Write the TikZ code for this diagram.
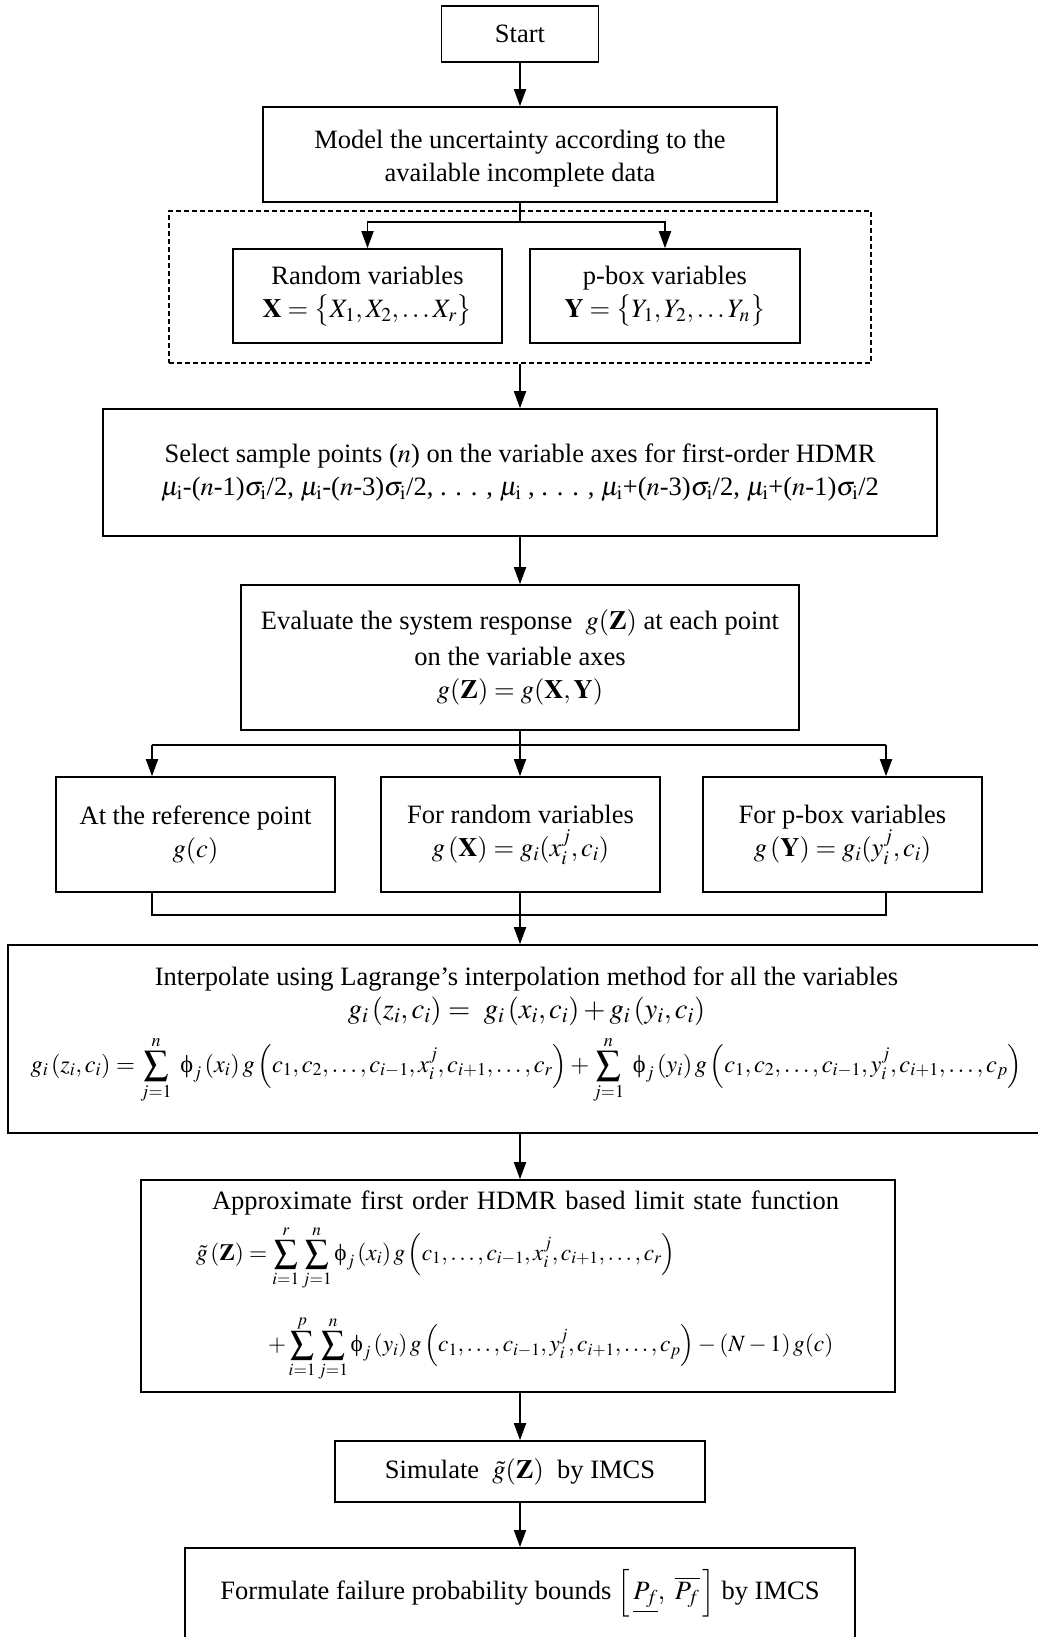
\documentclass[tikz,border=0pt]{standalone}
\usepackage{amsmath}
\usepackage{graphicx}
\usepackage{mathptmx}
\usepackage[no-math]{fontspec}
\setmainfont{Liberation Serif}
\usetikzlibrary{arrows.meta}
\newcommand{\uphi}{\text{ϕ}}
\begin{document}
\begin{tikzpicture}[x=1pt,y=-1pt,
  every node/.style={font=\fontsize{26.5}{33}\selectfont},
  box/.style={draw, line width=1.6pt, align=center, inner sep=0pt},
  grpbox/.style={draw, line width=1.1pt, dash pattern=on 5pt off 3pt},
  flow/.style={line width=1.8pt, -{Triangle[width=12pt,length=17pt]}},
  link/.style={line width=1.8pt}]
\useasboundingbox (0,0) rectangle (1037,1637);

% process boxes
\node[box, minimum width=157, minimum height=56] (start) at (520,34) {Start};
\node[box, minimum width=514, minimum height=95] (model) at (520,154.5)
  {\rule{0pt}{27pt}Model the uncertainty according to the\\available incomplete data};
\node[grpbox, minimum width=702, minimum height=152] (grp) at (520,287) {};
\node[box, minimum width=269, minimum height=94] (rand) at (367.5,296)
  {Random variables\\ $\mathbf{X}=\bigl\{X_1,X_2,\ldots X_r\bigr\}$};
\node[box, minimum width=270, minimum height=94] (pbox) at (665,296)
  {p-box variables\\ $\mathbf{Y}=\bigl\{Y_1,Y_2,\ldots Y_n\bigr\}$};
\node[box, minimum width=834, minimum height=127] (sel) at (520,472.5)
  {Select sample points ($n$) on the variable axes for first-order HDMR\\
   $\mu_{\mathrm{i}}$-($n$-1)$\sigma_{\mathrm{i}}$/2, $\mu_{\mathrm{i}}$-($n$-3)$\sigma_{\mathrm{i}}$/2, . . . , $\mu_{\mathrm{i}}$ , . . . , $\mu_{\mathrm{i}}$+($n$-3)$\sigma_{\mathrm{i}}$/2, $\mu_{\mathrm{i}}$+($n$-1)$\sigma_{\mathrm{i}}$/2};
\node[box, minimum width=558, minimum height=145] (eval) at (520,657.5)
  {Evaluate the system response \ $g(\mathbf{Z})$ at each point\\[3pt]
   on the variable axes\\ $g(\mathbf{Z})=g(\mathbf{X},\mathbf{Y})$};
\node[box, minimum width=279, minimum height=115] (ref) at (195.5,834.5)
  {At the reference point\\ $g(c)$};
\node[box, minimum width=279, minimum height=115] (rv) at (520.5,834.5)
  {For random variables\\ $g\left(\mathbf{X}\right)=g_i(x_i^j,c_i)$};
\node[box, minimum width=279, minimum height=115] (pv) at (842.5,834.5)
  {For p-box variables\\ $g\left(\mathbf{Y}\right)=g_i(y_i^j,c_i)$};
\node[box, minimum width=1037, minimum height=188] (interp) at (526.5,1039)
  {Interpolate using Lagrange’s interpolation method for all the variables\\
   \scalebox{1.08}{$g_i\left(z_i,c_i\right)=\ g_i\left(x_i,c_i\right)+g_i\left(y_i,c_i\right)$}\\[9pt]
   \scalebox{0.92}{$\displaystyle g_i\left(z_i,c_i\right)=\sum_{j=1}^{n}\ \uphi_j\left(x_i\right)g\left(c_1,c_2,\ldots,c_{i-1},x_i^j,c_{i+1},\ldots,c_r\right)+\sum_{j=1}^{n}\ \uphi_j\left(y_i\right)g\left(c_1,c_2,\ldots,c_{i-1},y_i^j,c_{i+1},\ldots,c_p\right)$}\rule[-39pt]{0pt}{0pt}};
\node[box, align=left, text width=644, inner xsep=55, minimum height=212] (approx) at (518,1286)
  {\hspace*{16pt}Approximate first order HDMR based limit state function\\[10pt]
   \scalebox{0.88}{$\displaystyle \tilde{g}\left(\mathbf{Z}\right)=\sum_{i=1}^{r}\sum_{j=1}^{n}\uphi_j\left(x_i\right)g\left(c_1,\ldots,c_{i-1},x_i^j,c_{i+1},\ldots,c_r\right)$}\\[24pt]
   \hspace*{72pt}\scalebox{0.88}{$\displaystyle +\sum_{i=1}^{p}\sum_{j=1}^{n}\uphi_j\left(y_i\right)g\left(c_1,\ldots,c_{i-1},y_i^j,c_{i+1},\ldots,c_p\right)-\left(N-1\right)g(c)$}};
\node[box, minimum width=370, minimum height=61] (sim) at (520,1471.5)
  {Simulate \ $\tilde{g}(\mathbf{Z})$ \ by IMCS};
\node[box, anchor=north, minimum width=670, text height=52, text depth=60] (form) at (520,1547)
  {Formulate failure probability bounds $\left[\,\underline{P_f},\ \overline{P_f}\,\right]$ by IMCS};

% connectors
\coordinate (b1) at (520,222);
\draw[flow] (start) -- (model);
\draw[link] (model.south) -- (b1);
\draw[flow] (b1) -| (rand.north);
\draw[flow] (b1) -| (pbox.north);
\draw[flow] (grp.south) -- (sel.north);
\draw[flow] (sel.south) -- (eval.north);

\coordinate (b2) at (520,745);
\coordinate (bl) at (152,745);
\coordinate (br) at (886,745);
\draw[link] (eval.south) -- (b2);
\draw[link] (bl) -- (br);
\draw[flow] (bl) -- (bl |- ref.north);
\draw[flow] (b2) -- (b2 |- rv.north);
\draw[flow] (br) -- (br |- pv.north);

\coordinate (ml) at (152,915);
\coordinate (mc) at (520,915);
\coordinate (mr) at (886,915);
\draw[link] (ml |- ref.south) -- (ml) -- (mr) -- (mr |- pv.south);
\draw[link] (mc |- rv.south) -- (mc);
\draw[flow] (mc) -- (mc |- interp.north);
\draw[flow] (mc |- interp.south) -- (mc |- approx.north);
\draw[flow] (mc |- approx.south) -- (sim.north);
\draw[flow] (sim.south) -- (form.north);
\end{tikzpicture}
\end{document}
